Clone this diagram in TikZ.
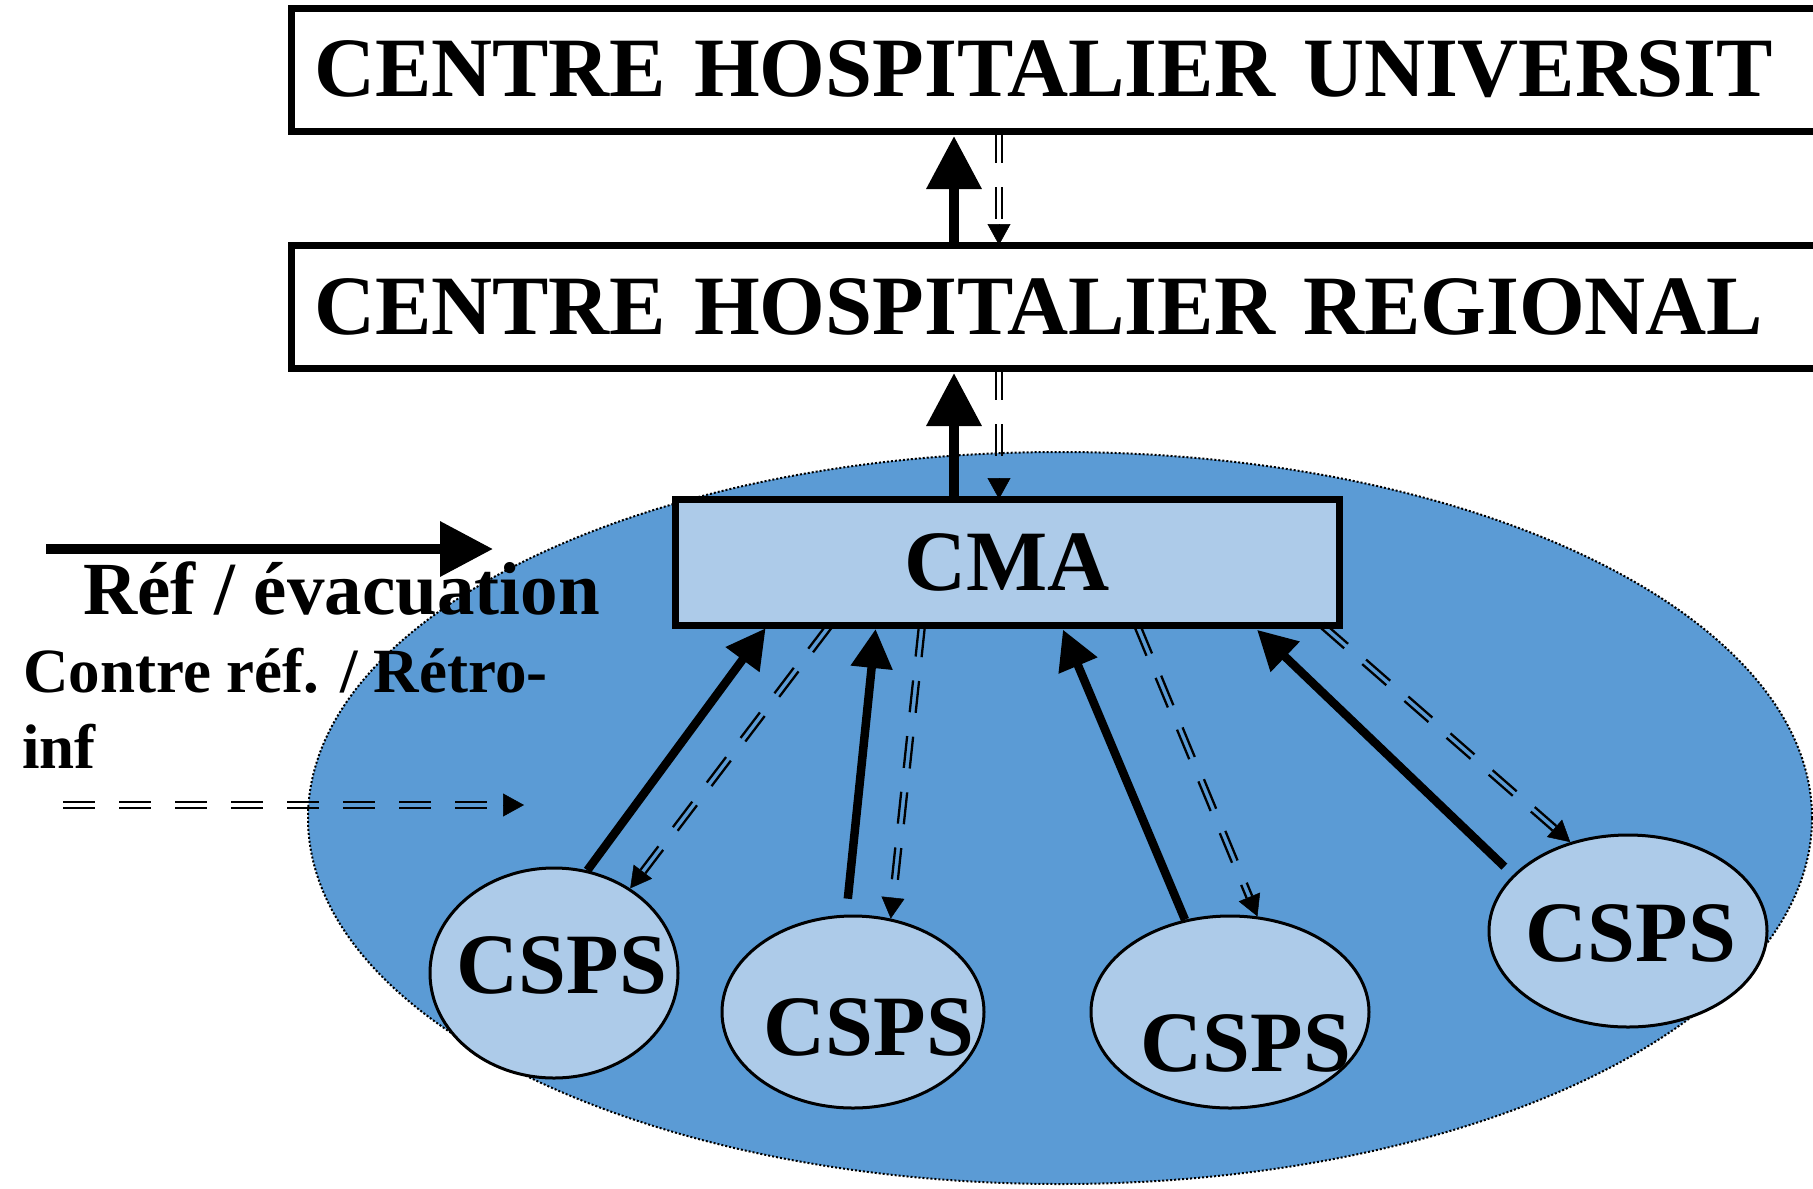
\documentclass[tikz,border=0pt]{standalone}
\usepackage{fontspec}
\setmainfont{Liberation Serif}
\usepackage{tikz}
\usetikzlibrary{shapes.geometric, arrows.meta, positioning, calc}
\definecolor{zoneblue}{HTML}{5B9BD5}
\definecolor{paleblue}{HTML}{ADCBE9}

% double dashed arrow (contre reference)
\newcommand{\retroarrow}[2]{%
  \path (#1) coordinate (ra) (#2) coordinate (rb);
  \path ($(rb)!21pt!(ra)$) coordinate (rc);
  \draw[retroline] ($(ra)!3pt!90:(rc)$) -- ($(rc)!3pt!-90:(ra)$);
  \draw[retroline] ($(ra)!3pt!-90:(rc)$) -- ($(rc)!3pt!90:(ra)$);
  \draw[retrotip] (rc) -- (rb);
}

\begin{document}
\begin{tikzpicture}[x=1pt, y=-1pt,
  bigfont/.style={font=\fontsize{86}{96}\selectfont\bfseries},
  hospbox/.style={draw, font=\fontsize{84.5}{96}\selectfont\bfseries, line width=7pt,
    outer sep=0pt, inner ysep=0pt, inner xsep=23pt, text width=1554pt, align=left,
    minimum height=123pt, anchor=north west},
  cmabox/.style={draw, bigfont, fill=paleblue, line width=7pt, outer sep=0pt,
    minimum width=664pt, minimum height=126pt},
  csps/.style={ellipse, draw, fill=paleblue, line width=3pt, inner sep=0pt},
  cspstext/.style={bigfont, inner sep=0pt},
  bigarrow/.style={line width=10pt, -{Triangle[length=53pt, width=53pt]}},
  refarrow/.style={line width=8.5pt, -{Triangle[length=39pt, width=40pt]}},
  retroline/.style={line width=2.3pt, dash pattern=on 32pt off 24pt},
  retrotip/.style={line width=0.5pt, -{Triangle[length=21pt, width=23pt]}}]
\useasboundingbox (0,0) rectangle (1813,1189);
\clip (0,0) rectangle (1813,1189);

% district zone
\node[ellipse, draw, fill=zoneblue, line width=2pt, dash pattern=on 2pt off 2pt,
  minimum width=1504pt, minimum height=732pt, inner sep=0pt] (zone) at (1060,818) {};

% hospitals
\node[hospbox] (chu) at (291,8) {CENTRE HOSPITALIER UNIVERSIT};
\node[hospbox] (chr) at (291,245) {CENTRE HOSPITALIER REGIONAL};
\node[cmabox] (cma) at (1007,562) {CMA};

% health centres
\node[csps, minimum width=248pt, minimum height=210pt] (csps1) at (554,973) {};
\node[csps, minimum width=262pt, minimum height=192pt] (csps2) at (853,1012) {};
\node[csps, minimum width=278pt, minimum height=192pt] (csps3) at (1230,1012) {};
\node[csps, minimum width=278pt, minimum height=192pt] (csps4) at (1628,931) {};
\node[cspstext] (t1) at (562,965) {CSPS};
\node[cspstext] (t2) at (869,1027) {CSPS};
\node[cspstext] (t3) at (1246,1043) {CSPS};
\node[cspstext] (t4) at (1631,933) {CSPS};

% columns of the vertical links
\coordinate (up) at (954,0);
\coordinate (down) at (999,0);

% references
\draw[bigarrow, shorten >=5pt] (chr.north -| up) -- (chu.south -| up);
\draw[bigarrow, shorten >=5pt] (cma.north -| up) -- (chr.south -| up);
\draw[refarrow, shorten >=4pt] (csps1.72) -- ([xshift=93pt]cma.south west);
\draw[refarrow, shorten <=16pt, shorten >=4pt] (csps2.94) -- ([xshift=201pt]cma.south west);
\draw[refarrow, shorten >=5pt] (csps3.116) -- ([xshift=386pt]cma.south west);
\draw[refarrow, shorten <=12pt, shorten >=7pt] (csps4.154) -- ([xshift=577pt]cma.south west);

% counter references
\retroarrow{chu.south -| down}{chr.north -| down}
\retroarrow{chr.south -| down}{cma.north -| down}
\retroarrow{[xshift=155pt]cma.south west}{csps1.48}
\retroarrow{[xshift=247pt]cma.south west}{csps2.68}
\retroarrow{[xshift=462pt]cma.south west}{csps3.74}
\retroarrow{[xshift=647pt]cma.south west}{csps4.123}

% legend
\coordinate (legA) at (46,549);
\coordinate (legB) at (493,549);
\coordinate (legC) at (63,805);
\coordinate (legD) at (524,805);
\draw[bigarrow] (legA) -- (legB);
\retroarrow{legC}{legD}
\node[font=\fontsize{75}{86}\selectfont\bfseries, inner sep=0pt, anchor=base west]
  (evac) at (83,614) {Réf / évacuation};
\node[font=\fontsize{63}{76}\selectfont\bfseries, inner sep=0pt, anchor=base west]
  (retro) at (23,692) {Contre réf. / Rétro-};
\node[font=\fontsize{63}{76}\selectfont\bfseries, inner sep=0pt, anchor=base west]
  (inf) at (22,768) {inf};
\end{tikzpicture}
\end{document}
